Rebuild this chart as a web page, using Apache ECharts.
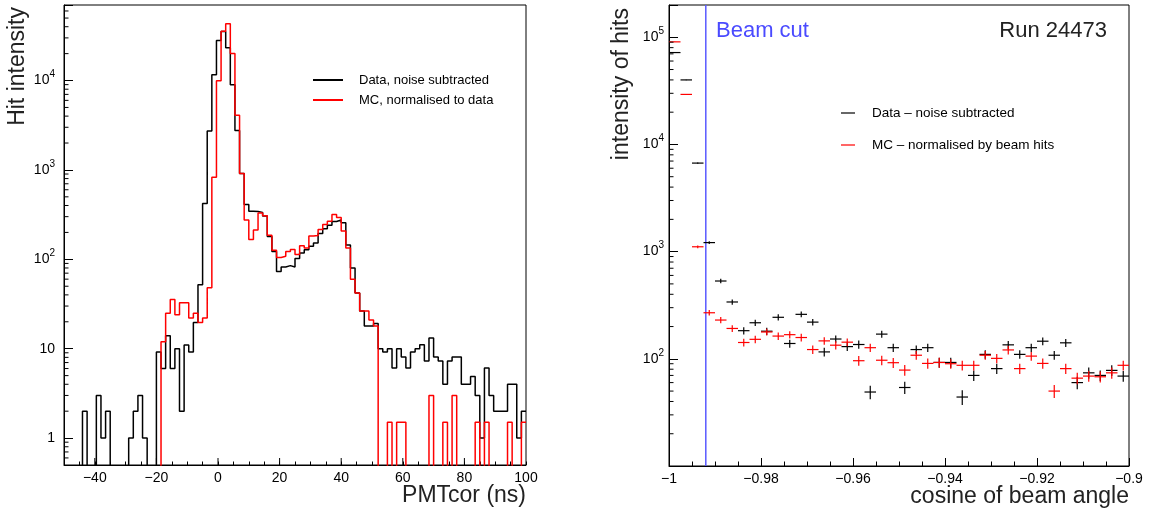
<!DOCTYPE html>
<html><head><meta charset="utf-8">
<script src="https://cdn.jsdelivr.net/npm/echarts@6/dist/echarts.min.js"></script>
<style>html,body{margin:0;padding:0;background:#fff}#c{width:1157px;height:515px}</style>
</head><body><div id="c"></div>
<script>
// ---------- Left panel: PMTcor histogram (bin edges in ns) ----------
const pmtBinEdges = [-50,-48.5,-47,-45.5,-44,-42.5,-41,-39.5,-38,-36.5,-35,-33.5,-32,-30.5,-29,-27.5,-26,-24.5,-23,-21.5,-20,-18.5,-17,-15.5,-14,-12.5,-11,-9.5,-8,-6.5,-5,-3.5,-2,-0.5,1,2.5,4,5.5,7,8.5,10,11.5,13,14.5,16,17.5,19,20.5,22,23.5,25,26.5,28,29.5,31,32.5,34,35.5,37,38.5,40,41.5,43,44.5,46,47.5,49,50.5,52,53.5,55,56.5,58,59.5,61,62.5,64,65.5,67,68.5,70,71.5,73,74.5,76,77.5,79,80.5,82,83.5,85,86.5,88,89.5,91,92.5,94,95.5,97,98.5,100];
const pmtData = [0,0,0,0,2,0,0,3,1,2, 0,0,0,0,1,2,3,1,0,0, 9.2,6,14,6,10,2,11,9.2,19.6,52, 420,2720,11600,28000,35400,23300,8980,2770,915,410, 346,342,335,305,180,122,73,82,85,82, 102,118,128,140,152,195,220,240,265,275, 256,145,80,42,26.4,17.9,17.9,19.2,10,9.2, 10,6.1,10,8.1,6.1,9.2,10,11.1,7.3,13.2, 8.1,7.3,4,7.3,8.1,8.1,4,4,4.9,3, 1,6.1,3,2,2,2,4,4,1,2];
const pmtMC = [0,0,0,0,0,0,0,0,0,0, 0,0,0,0,0,0,0,0,0,0, 0,12,25,35.6,24,32.7,32.7,22,25,19.6, 22,48,830,9950,35700,43200,20100,4100,915,275, 167,213,330,308,186,126,105,108,122,129, 113,142,134,182,185,216,245,266,318,293, 207,134,60,42,26.4,26.4,21,17.9,0,0, 1.5,0,1.5,1.5,0,0,0,0,0,3, 0,0,1.5,0,3,0,0,0,0,1.5, 0,1.5,0,0,0,0,1.5,0,0,1.5];
const pmtXMajorTicks = [-40,-20,0,20,40,60,80];
const hitMinorTicks = [0.6,0.7,0.8,0.9,2,3,4,5,6,7,8,9,20,30,40,50,60,70,80,90,200,300,400,500,600,700,800,900,2000,3000,4000,5000,6000,7000,8000,9000,20000,30000,40000,50000,60000];

// ---------- Right panel: cosine of beam angle ----------
const cosBinCenters = [-0.99875,-0.99625,-0.99375,-0.99125,-0.98875,-0.98625,-0.98375,-0.98125,-0.97875,-0.97625,-0.97375,-0.97125,-0.96875,-0.96625,-0.96375,-0.96125,-0.95875,-0.95625,-0.95375,-0.95125,-0.94875,-0.94625,-0.94375,-0.94125,-0.93875,-0.93625,-0.93375,-0.93125,-0.92875,-0.92625,-0.92375,-0.92125,-0.91875,-0.91625,-0.91375,-0.91125,-0.90875,-0.90625,-0.90375,-0.90125];
const cosBinWidth = 0.0025;
const cosData = [72000,40000,6700,1214,532,339,183,217,181,244, 139,260,220,116,153,130,136,49,170,127, 54,122,127,92.5,92.5,44,70,110,81,135, 110,127,146,108,141,60,74,70,78,69];
const cosDataErr = [270,200,82,35,25,19,14,15,14,16, 12,16,15,11,12,12,12,7,13,11, 7,11,11,10,10,7,8,10,9,12, 10,11,12,10,12,8,9,8,9,8];
const cosMC = [90600,29300,1110,269,230,192,142,152,178,163, 168,158,122,147,134,143,96,127,97,92, 78.5,108,90.6,92.5,90,87,87,108,101,121, 81,106,90.6,50,81,66,69,68,74,87];
const cosMCErr = [300,170,33,16,15,14,12,12,13,13, 13,13,11,12,12,12,10,11,10,10, 9,10,10,10,9,9,9,10,10,11, 9,10,10,7,9,8,8,8,9,9];
const cosMinorTicks = [20,30,40,50,60,70,80,90,200,300,400,500,600,700,800,900,2000,3000,4000,5000,6000,7000,8000,9000,20000,30000,40000,50000,60000,70000,80000,90000];
const beamCut = -0.992;

// axis ranges
const pmtXMin = -50, pmtXMax = 100, hitYMin = 0.5, hitYMax = 70000;
const cosXMin = -1, cosXMax = -0.9, cosYMin = 10, cosYMax = 200000;
const ZERO_FLOOR = 0.05; // empty bins sit below the log axis and are clipped

const FONT = '"Liberation Sans", Arial, Helvetica, sans-serif';
const chart = echarts.init(document.getElementById('c'));

function logLabel(minShown) {
  return function (v) {
    if (v < minShown) return '';
    const l = Math.log10(v), r = Math.round(l);
    if (Math.abs(l - r) > 1e-6) return '';
    if (r === 0) return '1';
    if (r === 1) return '10';
    return '{b|10}{sup|' + r + '}';
  };
}
const labelRich = {
  b: {fontSize: 14, fontFamily: FONT, color: '#000', lineHeight: 22, verticalAlign: 'middle'},
  sup: {fontSize: 10, fontFamily: FONT, color: '#000', lineHeight: 12, verticalAlign: 'top'}
};
const minus = s => String(s).replace('-', '\u2212');

function histPoints(vals) {
  return pmtBinEdges.map((e, i) => {
    const v = vals[Math.min(i, vals.length - 1)];
    return [e, v > 0 ? v : ZERO_FLOOR];
  });
}

function yTickSeries(grid, ticks, len) {
  return {
    type: 'custom', xAxisIndex: grid, yAxisIndex: grid, silent: true, z: 5,
    data: ticks.map(v => [grid === 0 ? pmtXMin : cosXMin, v]),
    renderItem: (params, api) => {
      const p = api.coord([api.value(0), api.value(1)]);
      return {type: 'line', shape: {x1: p[0], y1: p[1], x2: p[0] + len, y2: p[1]},
        style: {stroke: '#000', lineWidth: 1}};
    }
  };
}

function crossSeries(name, xs, ys, es, color) {
  return {
    name, type: 'custom', xAxisIndex: 1, yAxisIndex: 1, z: 4,
    data: xs.map((x, i) => [x, ys[i], es[i]]),
    encode: {x: 0, y: 1},
    renderItem: (params, api) => {
      const x = api.value(0), y = api.value(1), e = api.value(2), h = cosBinWidth / 2;
      const a = api.coord([x - h, y]), b = api.coord([x + h, y]);
      const c = api.coord([x, y - e]), d = api.coord([x, y + e]);
      return {type: 'group', children: [
        {type: 'line', shape: {x1: a[0], y1: a[1], x2: b[0], y2: b[1]}, style: {stroke: color, lineWidth: 1.2}},
        {type: 'line', shape: {x1: c[0], y1: c[1], x2: d[0], y2: d[1]}, style: {stroke: color, lineWidth: 1.2}}
      ]};
    }
  };
}

const axisLineStyle = {show: true, onZero: false, lineStyle: {color: '#000', width: 1}};

chart.setOption({
  animation: false,
  backgroundColor: '#fff',
  grid: [
    {left: 64, top: 5, width: 462, height: 460, show: true, borderColor: '#000', borderWidth: 1, containLabel: false},
    {left: 669, top: 5, width: 460, height: 461, show: true, borderColor: '#000', borderWidth: 1, containLabel: false}
  ],
  xAxis: [
    {type: 'value', gridIndex: 0, min: pmtXMin, max: pmtXMax, interval: 10,
      axisLine: axisLineStyle,
      axisTick: {show: true, inside: true, length: 3.5, lineStyle: {color: '#000'}},
      minorTick: {show: true, splitNumber: 2, length: 3.5, lineStyle: {color: '#000'}},
      splitLine: {show: false}, minorSplitLine: {show: false},
      axisLabel: {color: '#000', fontSize: 14, fontFamily: FONT, margin: 6,
        formatter: v => (Math.abs(v % 20) < 1e-9 ? minus(v) : '')}},
    {type: 'value', gridIndex: 1, min: cosXMin, max: cosXMax, interval: 0.02,
      axisLine: axisLineStyle,
      axisTick: {show: true, inside: true, length: 8, lineStyle: {color: '#000'}},
      minorTick: {show: true, splitNumber: 4, length: 4.5, lineStyle: {color: '#000'}},
      splitLine: {show: false}, minorSplitLine: {show: false},
      axisLabel: {color: '#000', fontSize: 14, fontFamily: FONT, margin: 6,
        formatter: v => minus(Math.round(v * 1000) / 1000)}}
  ],
  yAxis: [
    {type: 'log', logBase: 10, gridIndex: 0, min: hitYMin, max: hitYMax,
      axisLine: axisLineStyle,
      axisTick: {show: true, inside: true, length: 9, lineStyle: {color: '#000'}},
      minorTick: {show: false}, splitLine: {show: false},
      axisLabel: {color: '#000', fontSize: 14, fontFamily: FONT, margin: 9, rich: labelRich,
        formatter: logLabel(0.9)}},
    {type: 'log', logBase: 10, gridIndex: 1, min: cosYMin, max: cosYMax,
      axisLine: axisLineStyle,
      axisTick: {show: true, inside: true, length: 9, lineStyle: {color: '#000'}},
      minorTick: {show: false}, splitLine: {show: false},
      axisLabel: {color: '#000', fontSize: 14, fontFamily: FONT, margin: 5, rich: labelRich,
        formatter: logLabel(50)}}
  ],
  series: [
    {name: 'Data, noise subtracted', type: 'line', xAxisIndex: 0, yAxisIndex: 0,
      data: histPoints(pmtData), step: 'end', showSymbol: false, symbol: 'none', clip: true, z: 2,
      lineStyle: {color: '#000', width: 1.5}},
    {name: 'MC, normalised to data', type: 'line', xAxisIndex: 0, yAxisIndex: 0,
      data: histPoints(pmtMC), step: 'end', showSymbol: false, symbol: 'none', clip: true, z: 3,
      lineStyle: {color: '#ff0000', width: 1.5}},
    yTickSeries(0, hitMinorTicks, 4.5),
    {type: 'custom', xAxisIndex: 0, yAxisIndex: 0, silent: true, z: 5,
      data: pmtXMajorTicks.map(v => [v, hitYMin]),
      renderItem: (params, api) => {
        const p = api.coord([api.value(0), api.value(1)]);
        return {type: 'line', shape: {x1: p[0], y1: p[1], x2: p[0], y2: p[1] - 7},
          style: {stroke: '#000', lineWidth: 1}};
      }},
    yTickSeries(1, cosMinorTicks, 4.5),
    {type: 'custom', xAxisIndex: 1, yAxisIndex: 1, silent: true, z: 3,
      data: [[beamCut]],
      renderItem: (params, api) => {
        const a = api.coord([api.value(0), cosYMin]), b = api.coord([api.value(0), cosYMax]);
        return {type: 'line', shape: {x1: a[0], y1: a[1], x2: b[0], y2: b[1]},
          style: {stroke: '#5a5aff', lineWidth: 1.5}};
      }},
    crossSeries('Data - noise subtracted', cosBinCenters, cosData, cosDataErr, '#000'),
    crossSeries('MC - normalised by beam hits', cosBinCenters, cosMC, cosMCErr, '#ff0000')
  ],
  graphic: [
    {type: 'text', x: 18, y: 7, rotation: Math.PI / 2,
      style: {text: 'Hit intensity', font: '23px ' + FONT, fill: '#222', align: 'right', verticalAlign: 'middle'}},
    {type: 'text', x: 526, y: 496,
      style: {text: 'PMTcor (ns)', font: '23px ' + FONT, fill: '#222', align: 'right', verticalAlign: 'middle'}},
    {type: 'line', shape: {x1: 313, y1: 80, x2: 343, y2: 80}, style: {stroke: '#000', lineWidth: 2}},
    {type: 'line', shape: {x1: 313, y1: 100, x2: 343, y2: 100}, style: {stroke: '#ff0000', lineWidth: 2}},
    {type: 'text', x: 359, y: 80,
      style: {text: 'Data, noise subtracted', font: '13px ' + FONT, fill: '#000', align: 'left', verticalAlign: 'middle'}},
    {type: 'text', x: 359, y: 100,
      style: {text: 'MC, normalised to data', font: '13px ' + FONT, fill: '#000', align: 'left', verticalAlign: 'middle'}},

    {type: 'text', x: 622, y: 8, rotation: Math.PI / 2,
      style: {text: 'intensity of hits', font: '23px ' + FONT, fill: '#222', align: 'right', verticalAlign: 'middle'}},
    {type: 'text', x: 1129, y: 497,
      style: {text: 'cosine of beam angle', font: '23px ' + FONT, fill: '#222', align: 'right', verticalAlign: 'middle'}},
    {type: 'text', x: 716, y: 31,
      style: {text: 'Beam cut', font: '22px ' + FONT, fill: '#4a4aff', align: 'left', verticalAlign: 'middle'}},
    {type: 'text', x: 1107, y: 31,
      style: {text: 'Run 24473', font: '22px ' + FONT, fill: '#222', align: 'right', verticalAlign: 'middle'}},
    {type: 'line', shape: {x1: 841, y1: 113, x2: 855, y2: 113}, style: {stroke: '#000', lineWidth: 1.2}},
    {type: 'line', shape: {x1: 841, y1: 145, x2: 855, y2: 145}, style: {stroke: '#ff0000', lineWidth: 1.2}},
    {type: 'text', x: 872, y: 113,
      style: {text: 'Data \u2013 noise subtracted', font: '13.5px ' + FONT, fill: '#000', align: 'left', verticalAlign: 'middle'}},
    {type: 'text', x: 872, y: 145,
      style: {text: 'MC \u2013 normalised by beam hits', font: '13.5px ' + FONT, fill: '#000', align: 'left', verticalAlign: 'middle'}}
  ]
});
</script>
</body></html>
